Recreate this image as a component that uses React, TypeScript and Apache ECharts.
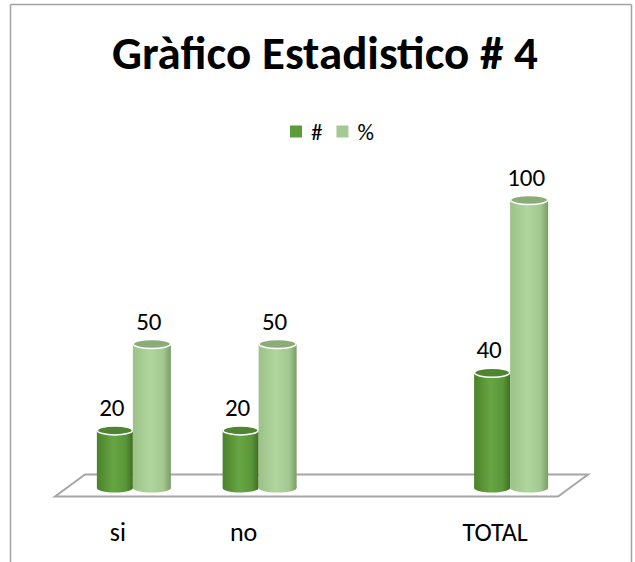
import React, { useEffect, useRef } from "react";
import * as echarts from "echarts";

const TITLE = "Gràfico Estadistico # 4";
const categories = ["si", "no", "", "TOTAL"];
const seriesNames = ["#", "%"];
const countValues: (number | null)[] = [20, 20, null, 40];
const percentValues: (number | null)[] = [50, 50, null, 100];

const FONT = "Carlito, Calibri, Lato, sans-serif";

function toData(vals: (number | null)[]) {
  const out: number[][] = [];
  vals.forEach((v, i) => {
    if (v !== null) out.push([i, v]);
  });
  return out;
}

function cylinder(offset: number, width: number, stops: string[], topColor: string) {
  return (params: any, api: any) => {
    const cat = api.value(0);
    const v = api.value(1);
    const top = api.coord([cat, v]);
    const base = api.coord([cat, 0]);
    const cx = top[0] + offset;
    const ry = 4.5;
    const grad = new echarts.graphic.LinearGradient(0, 0, 1, 0, [
      { offset: 0, color: stops[0] },
      { offset: 0.45, color: stops[1] },
      { offset: 0.8, color: stops[2] },
      { offset: 1, color: stops[3] },
    ]);
    return {
      type: "group",
      children: [
        {
          type: "rect",
          shape: { x: cx - width / 2, y: top[1], width, height: base[1] - top[1] },
          style: { fill: grad },
        },
        {
          type: "ellipse",
          shape: { cx, cy: base[1], rx: width / 2, ry },
          style: { fill: grad },
        },
        {
          type: "ellipse",
          shape: { cx, cy: top[1], rx: width / 2 - 0.5, ry },
          style: { fill: topColor, stroke: "#ffffff", lineWidth: 1.5 },
        },
        {
          type: "text",
          x: cx - 3,
          y: top[1] - 23,
          style: {
            text: String(v),
            fill: "#000000",
            font: `25px ${FONT}`,
            align: "center",
            verticalAlign: "middle",
          },
        },
      ],
    };
  };
}

export default function App() {
  const ref = useRef<HTMLDivElement>(null);
  useEffect(() => {
    if (!ref.current) return;
    const chart = echarts.init(ref.current, null, { renderer: "svg" });
    const frameColor = "#a3a3a3";
    chart.setOption({
      animation: false,
      backgroundColor: "#ffffff",
      title: {
        text: TITLE,
        left: 107,
        top: 24,
        textStyle: { fontFamily: FONT, fontSize: 47, fontWeight: "bold", color: "#000000" },
      },
      legend: {
        data: seriesNames,
        left: 285,
        top: 115,
        icon: "rect",
        itemWidth: 12,
        itemHeight: 12,
        itemGap: 14,
        textStyle: { fontFamily: FONT, fontSize: 23, color: "#000000", padding: [0, 0, 0, 4] },
      },
      grid: [
        { left: 70, width: 503, top: 200, bottom: 74 },
        { left: 55, width: 503, top: 200, bottom: 74 },
      ],
      xAxis: [
        {
          type: "category",
          gridIndex: 0,
          data: categories,
          axisLine: { show: false },
          axisTick: { show: false },
          axisLabel: { show: false },
        },
        {
          type: "category",
          gridIndex: 1,
          data: categories,
          axisLine: { show: false },
          axisTick: { show: false },
          axisLabel: { margin: 31, fontFamily: FONT, fontSize: 26, color: "#000000" },
        },
      ],
      yAxis: [
        { type: "value", gridIndex: 0, min: 0, max: 100, show: false },
        { type: "value", gridIndex: 1, min: 0, max: 100, show: false },
      ],
      graphic: [
        {
          type: "polygon",
          z: -10,
          shape: { points: [[55, 496.5], [85, 474.5], [588, 474.5], [558, 496.5]] },
          style: { fill: "#ffffff", stroke: "#a6a6a6", lineWidth: 2 },
        },
        { type: "line", shape: { x1: 10.5, y1: 4.5, x2: 631.5, y2: 4.5 }, style: { stroke: frameColor, lineWidth: 1.5 } },
        { type: "line", shape: { x1: 10.5, y1: 4.5, x2: 10.5, y2: 562 }, style: { stroke: frameColor, lineWidth: 1.5 } },
        { type: "line", shape: { x1: 631.5, y1: 4.5, x2: 631.5, y2: 562 }, style: { stroke: frameColor, lineWidth: 1.5 } },
      ],
      series: [
        {
          name: seriesNames[0],
          type: "custom",
          xAxisIndex: 0,
          yAxisIndex: 0,
          itemStyle: { color: "#5e9a3c" },
          encode: { x: 0, y: 1 },
          data: toData(countValues),
          renderItem: cylinder(-18, 36, ["#4a8229", "#67a544", "#5a9638", "#3e6f22"], "#4f8431"),
        },
        {
          name: seriesNames[1],
          type: "custom",
          xAxisIndex: 0,
          yAxisIndex: 0,
          itemStyle: { color: "#a4c994" },
          encode: { x: 0, y: 1 },
          data: toData(percentValues),
          renderItem: cylinder(19, 38, ["#9cc288", "#b0d59d", "#a2c88f", "#7a9c69"], "#8aad78"),
        },
      ],
    });
    return () => chart.dispose();
  }, []);
  return (
    <div
      ref={ref}
      style={{ position: "fixed", left: 0, top: 0, width: 635, height: 562, background: "#fff" }}
    />
  );
}
